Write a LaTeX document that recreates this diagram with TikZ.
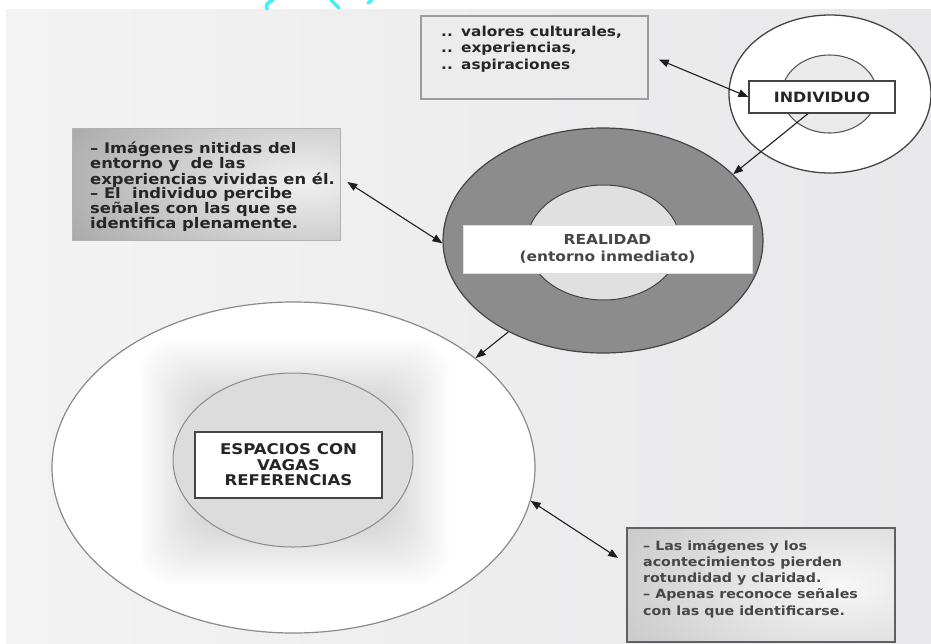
\documentclass[tikz,border=0pt]{standalone}
\usepackage{fontspec}
\setmainfont{DejaVu Sans}[FakeStretch=1.12]
\usetikzlibrary{shapes.geometric,arrows.meta}
\definecolor{txt}{HTML}{262626}
\definecolor{arrc}{HTML}{1E1E1E}
\definecolor{bgA}{HTML}{F3F3F3}
\definecolor{bgB}{HTML}{E8E8EA}
\definecolor{cyanA}{HTML}{3CF2F2}
\definecolor{edgeD}{HTML}{444444}
\definecolor{edgeM}{HTML}{8A8A8A}
\definecolor{ringD}{HTML}{8C8C8C}
\definecolor{ringL}{HTML}{E0E0E0}
\definecolor{indIn}{HTML}{EAEAEA}
\definecolor{espIn}{HTML}{DCDCDC}
\definecolor{valF}{HTML}{ECECEC}
\definecolor{valE}{HTML}{9C9C9C}
\begin{document}
\begin{tikzpicture}[x=1pt,y=-1pt,
  tx/.style={text=txt, font=\bfseries\fontsize{13.7}{16.5}\selectfont, inner sep=0pt},
  ring/.style={ellipse, inner sep=0pt},
  plainbox/.style={rectangle, inner sep=0pt},
  arrline/.style={draw=arrc, line width=1.1pt},
  dbl/.style={arrline, {Triangle[length=10pt,width=7.5pt]}-{Triangle[length=10pt,width=7.5pt]}},
  sgl/.style={arrline, -{Triangle[length=10pt,width=7.5pt]}},
  cyanstroke/.style={draw=cyanA, line width=3.5pt, line cap=round}]
\useasboundingbox (0,0) rectangle (931,643);
% background
\fill[white] (0,0) rectangle (931,643);
\shade[left color=bgA, right color=bgB] (6,9) rectangle (931,643);
% cut-off cyan marks at the top
\draw[cyanstroke] (267,9) .. controls (266,4) .. (273,0);
\draw[cyanstroke] (331,0) -- (339,8);
\draw[cyanstroke] (368,3) -- (372,0);

% ---------- ESPACIOS ----------
\node[ring, draw=edgeM, line width=1.2pt, fill=white, minimum width=483pt, minimum height=331pt] (espOut) at (293.5,467.5) {};
\begin{scope}
  \clip (293.5,467.5) ellipse [x radius=240pt, y radius=164pt];
  \foreach \i in {0,...,20} {
    \fill[black, opacity=0.007, rounded corners=30pt] (200-3*\i,400-3*\i) rectangle (390+3*\i,525+3*\i);
  }
\end{scope}
\node[ring, draw=edgeM, line width=1pt, fill=espIn, minimum width=240pt, minimum height=174pt] (espIn) at (293,460) {};
\node[plainbox, draw=edgeD, line width=1.2pt, fill=white, minimum width=187pt, minimum height=66pt, tx, align=center, font=\bfseries\fontsize{14.8}{15.5}\selectfont] (espbox) at (288.5,465) {ESPACIOS CON\\VAGAS\\REFERENCIAS};

% ---------- REALIDAD ----------
\node[ring, draw=edgeD, line width=1.2pt, fill=ringD, minimum width=320pt, minimum height=225pt] (realOut) at (603,240.5) {};
\node[ring, draw=edgeD, line width=1pt, fill=ringL, minimum width=153pt, minimum height=115pt] (realIn) at (603.5,242.5) {};
\node[plainbox, draw=gray!25, line width=0.6pt, fill=white, minimum width=289pt, minimum height=48pt, tx, align=center, font=\bfseries\fontsize{13.8}{17}\selectfont, text=txt!85] (realbox) at (607.5,249) {REALIDAD\\(entorno inmediato)};

% ---------- INDIVIDUO ----------
\node[ring, draw=edgeD, line width=1.3pt, fill=white, minimum width=202pt, minimum height=158pt] (indOut) at (830,94) {};
\node[ring, draw=edgeD!90, line width=1.1pt, fill=indIn, minimum width=95pt, minimum height=78pt] (indIn) at (829.5,94) {};
\node[plainbox, draw=edgeD, line width=1.2pt, fill=white, minimum width=146pt, minimum height=32pt, tx, font=\bfseries\fontsize{14.2}{16.5}\selectfont] (indbox) at (822,97) {INDIVIDUO};

% ---------- VALORES box ----------
\node[plainbox, draw=valE, line width=1.5pt, fill=valF, minimum width=227pt, minimum height=83pt] (valbox) at (534.5,57.5) {};
\node[tx, anchor=base west, align=left] (valtext) at (441,69)
  {\makebox[20pt][l]{..}valores culturales,\\
   \makebox[20pt][l]{..}experiencias,\\
   \makebox[20pt][l]{..}aspiraciones};

% ---------- left grey box ----------
\begin{scope}
  \clip (72,128) rectangle (340,240);
  \shade[inner color=gray!12, outer color=gray!78] (305,182) ellipse [x radius=320pt, y radius=150pt];
\end{scope}
\node[plainbox, draw=gray!60, line width=0.5pt, minimum width=268pt, minimum height=112pt] (lbox) at (206,184) {};
\node[tx, anchor=base west, align=left, font=\bfseries\fontsize{14.6}{14.2}\selectfont] (ltext) at (90,228)
  {– Imágenes nitidas del\\
   entorno y\ \ de las\\
   experiencias vividas en él.\\
   – El\ \ individuo percibe\\
   señales con las que se\\
   identifica plenamente.};

% ---------- bottom-right box ----------
\begin{scope}
  \clip (627,528) rectangle (895,642);
  \shade[inner color=gray!6, outer color=gray!50] (840,585) ellipse [x radius=300pt, y radius=150pt];
\end{scope}
\node[plainbox, draw=edgeD!85, line width=1.6pt, minimum width=268pt, minimum height=114pt] (brbox) at (761,585) {};
\node[tx, anchor=base west, align=left, font=\bfseries\fontsize{12.7}{16.25}\selectfont, text=txt!85] (brtext) at (643,615)
  {– Las imágenes y los\\
   acontecimientos pierden\\
   rotundidad y claridad.\\
   – Apenas reconoce señales\\
   con las que identificarse.};

% ---------- connectors ----------
\draw[dbl] ([shift={(10,2)}]valbox.east) -- (indbox.west);
\draw[sgl] ([xshift=-14pt]indbox.south) -- (realOut.27);
\draw[dbl] ([shift={(7,-2)}]lbox.east) -- (realOut.181);
\draw[sgl] (realOut.224) -- (espOut.31);
\draw[dbl] (espOut.352) -- ([shift={(-8,-27)}]brbox.west);
\end{tikzpicture}
\end{document}
